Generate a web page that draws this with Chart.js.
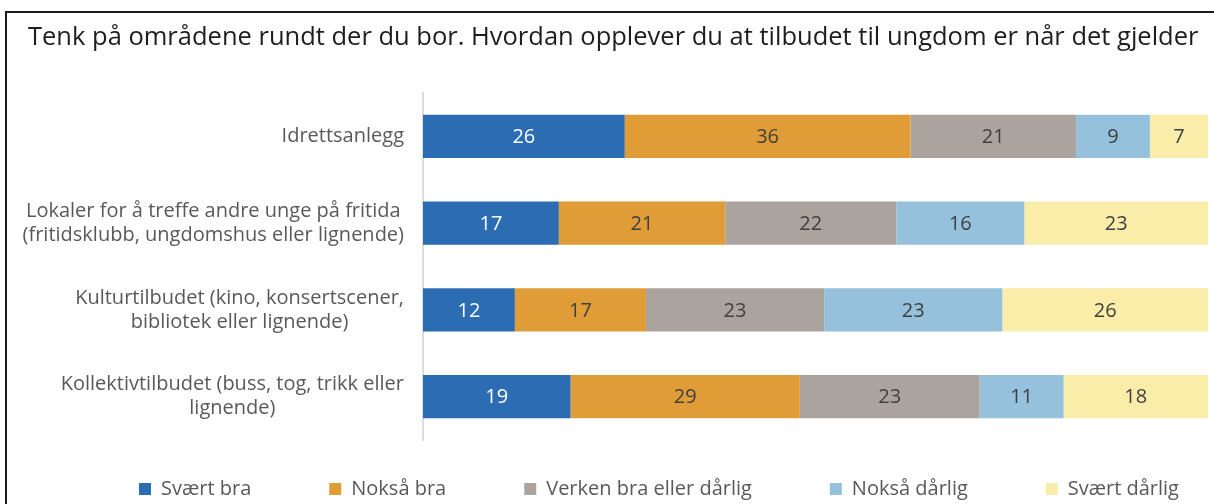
<!DOCTYPE html>
<html lang="no">
<head>
<meta charset="utf-8">
<title>Tilbud til ungdom</title>
<script src="https://cdn.jsdelivr.net/npm/chart.js@4/dist/chart.umd.min.js"></script>
<style>
    html, body { margin: 0; padding: 0; background: #fff; }
    #wrap { position: relative; width: 1214px; height: 504px; overflow: hidden; }
    /* the reference is cropped from a framed figure: only top and left edges show */
    #frame { position: absolute; left: 5px; top: 11px; width: 1400px; height: 700px;
             border-left: 2px solid #1a1a1a; border-top: 2px solid #1a1a1a; }
    #chart { position: absolute; left: 0; top: 0; }
</style>
</head>
<body>
<div id="wrap">
    <div id="frame"></div>
    <canvas id="chart" width="1214" height="504"></canvas>
</div>
<script>

var titleText = 'Tenk på områdene rundt der du bor. Hvordan opplever du at tilbudet til ungdom er når det gjelder';

var categories = [
    ['Idrettsanlegg'],
    ['Lokaler for å treffe andre unge på fritida', '(fritidsklubb, ungdomshus eller lignende)'],
    ['Kulturtilbudet (kino, konsertscener,', 'bibliotek eller lignende)'],
    ['Kollektivtilbudet (buss, tog, trikk eller', 'lignende)']
];

var seriesNames = ['Svært bra', 'Nokså bra', 'Verken bra eller dårlig', 'Nokså dårlig', 'Svært dårlig'];

// percentages per category, labels show them rounded
var svaertBra = [25.7, 17.3, 11.7, 18.8];
var noksaBra = [36.4, 21.2, 16.7, 29.2];
var verken = [21.1, 21.8, 22.7, 22.9];
var noksaDarlig = [9.4, 16.3, 22.7, 10.7];
var svaertDarlig = [7.4, 23.4, 26.2, 18.4];

var seriesColors = ['#2b6cb3', '#e09c36', '#aba49e', '#95c1dd', '#f9eda9'];
var labelColors = ['#ffffff', '#404040', '#404040', '#404040', '#404040'];

var fontFamily = '"Open Sans", Roboto, sans-serif';
var textGray = '#595959';
var legendPadding = 78;

var categoryLabels = {
    id: 'categoryLabels',
    afterDraw: function (chart) {
        var ctx = chart.ctx;
        var yScale = chart.scales.y;
        var right = yScale.right - 19;
        var lineHeight = 24;

        ctx.save();
        ctx.font = '20px ' + fontFamily;
        ctx.fillStyle = textGray;
        ctx.textAlign = 'center';
        ctx.textBaseline = 'middle';

        // each label block sits against the axis, its lines centred on each other
        chart.data.labels.forEach(function (lines, i) {
            var widest = Math.max.apply(null, lines.map(function (line) {
                return ctx.measureText(line).width;
            }));
            var cx = right - widest / 2;
            var top = yScale.getPixelForValue(i) - (lines.length - 1) * lineHeight / 2;
            lines.forEach(function (line, j) {
                ctx.fillText(line, cx, top + j * lineHeight);
            });
        });
        ctx.restore();
    }
};

var barValues = {
    id: 'barValues',
    afterDatasetsDraw: function (chart) {
        var ctx = chart.ctx;

        ctx.save();
        ctx.font = '20px ' + fontFamily;
        ctx.textAlign = 'center';
        ctx.textBaseline = 'middle';
        chart.data.datasets.forEach(function (dataset, di) {
            ctx.fillStyle = labelColors[di];
            chart.getDatasetMeta(di).data.forEach(function (bar, i) {
                ctx.fillText(Math.round(dataset.data[i]), (bar.x + bar.base) / 2, bar.y + 1);
            });
        });
        ctx.restore();
    }
};

// wide gaps between legend items on one row, without letting the legend eat the plot height
var legendSpacing = {
    id: 'legendSpacing',
    beforeInit: function (chart) {
        var fit = chart.legend.fit;
        chart.legend.fit = function () {
            this.maxWidth = 2000;
            fit.call(this);
            this.height = 64;
        };
    },
    afterLayout: function (chart) {
        // widen the box past the canvas so the last item does not wrap,
        // keeping the row centred where the reference has it
        chart.legend.top -= legendPadding - 39;
        chart.legend.left -= 10;
        chart.legend.right += 92;
    }
};

var datasets = [svaertBra, noksaBra, verken, noksaDarlig, svaertDarlig].map(function (values, i) {
    return {
        label: seriesNames[i],
        data: values,
        backgroundColor: seriesColors[i],
        borderWidth: 0,
        barPercentage: 1,
        categoryPercentage: 0.5
    };
});

var ctx = document.getElementById('chart').getContext('2d');
var chart = new Chart(ctx, {
    type: 'bar',
    data: {
        labels: categories,
        datasets: datasets
    },
    options: {
        indexAxis: 'y',
        responsive: false,
        animation: false,
        layout: {
            padding: { left: 28, right: 6, top: 0, bottom: 0 }
        },
        plugins: {
            title: {
                display: true,
                text: titleText,
                align: 'start',
                color: '#1e1e1e',
                font: { family: fontFamily, size: 25.5, weight: 'normal', lineHeight: 1.2 },
                padding: { top: 22, bottom: 40.4 }
            },
            legend: {
                position: 'bottom',
                labels: {
                    boxWidth: 12,
                    boxHeight: 12,
                    padding: legendPadding,
                    color: textGray,
                    font: { family: fontFamily, size: 20 }
                }
            },
            tooltip: { enabled: false }
        },
        scales: {
            x: {
                stacked: true,
                min: 0,
                max: 100,
                display: false
            },
            y: {
                stacked: true,
                grid: { display: false },
                border: { display: true, color: '#dcdcdc', width: 2 },
                ticks: { display: false },
                afterFit: function (scale) {
                    scale.width = 395;
                }
            }
        }
    },
    plugins: [categoryLabels, barValues, legendSpacing]
});

</script>
</body>
</html>
